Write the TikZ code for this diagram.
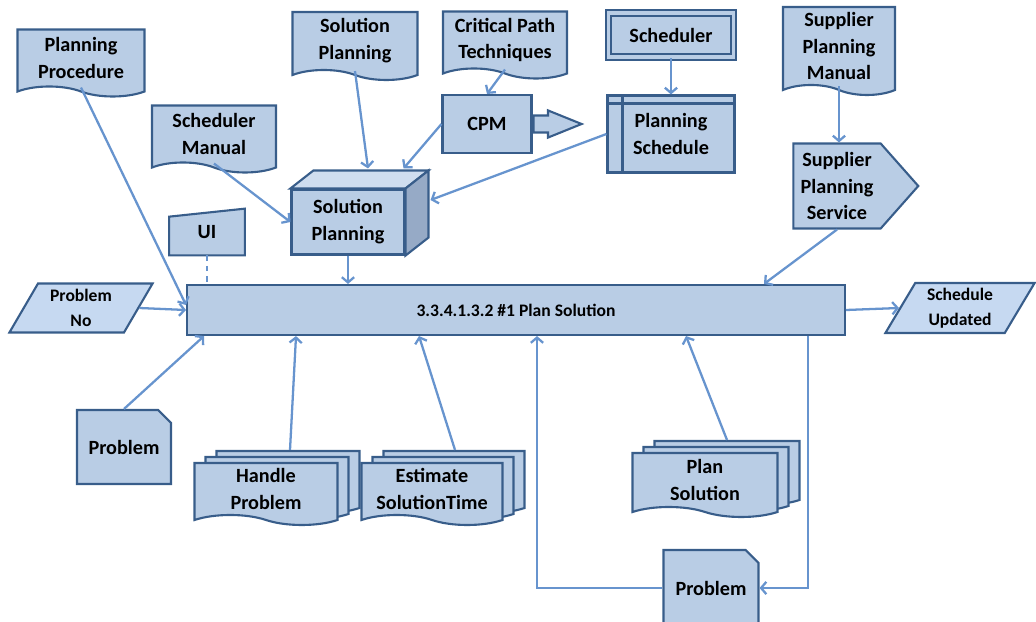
\documentclass[tikz,border=0pt]{standalone}
\usepackage{fontspec}
\setmainfont{Carlito}
\usetikzlibrary{shapes.geometric, shapes.symbols, shapes.misc, shapes.arrows, shadows, arrows.meta, calc}
\definecolor{boxfill}{RGB}{185,205,229}
\definecolor{boxline}{RGB}{56,93,138}
\definecolor{linkline}{RGB}{103,148,206}
\definecolor{iofill}{RGB}{198,217,241}
\definecolor{topfill}{RGB}{207,221,239}
\definecolor{sidefill}{RGB}{150,170,198}
\definecolor{foldfill}{RGB}{140,165,200}
\pgfdeclarelayer{bg}
\pgfsetlayers{bg,main}
\tikzstyle{base} = [draw=boxline, fill=boxfill, line width=1.2pt, align=center, inner sep=0pt, font=\bfseries\fontsize{11.5}{15.3}\selectfont]
\tikzstyle{rect} = [base, rectangle]
\tikzstyle{doc} = [base, tape, tape bend top=none, tape bend bottom=out and in, tape bend height=0.2cm]
\tikzstyle{stack} = [doc, copy shadow={shadow xshift=0.44cm, shadow yshift=0.24cm, draw=boxline, fill=boxfill, line width=1.2pt}, copy shadow={shadow xshift=0.22cm, shadow yshift=0.12cm, draw=boxline, fill=boxfill, line width=1.2pt}]
\tikzstyle{note} = [base, chamfered rectangle, chamfered rectangle corners=north east, chamfered rectangle xsep=0.16cm,
  path picture={\filldraw[foldfill, draw=boxline, line width=0.6pt] ($(path picture bounding box.north east)+(-8,0)$) -- ($(path picture bounding box.north east)+(0,8)$) -- ($(path picture bounding box.north east)+(-6,6)$) -- cycle;}]
\tikzstyle{store} = [rect, path picture={\draw[boxline, line width=1.2pt] ($(path picture bounding box.north west)+(15,0)$) -- ($(path picture bounding box.south west)+(15,0)$) ($(path picture bounding box.north west)+(0,8)$) -- ($(path picture bounding box.north east)+(0,8)$);}]
\tikzstyle{frame} = [rect, double=boxfill, double distance=2pt]
\tikzstyle{io} = [base, fill=iofill, trapezium, trapezium left angle=61, trapezium right angle=119, trapezium stretches=true, font=\bfseries\fontsize{10}{14}\selectfont]
\tikzstyle{sig} = [base, signal, signal to=east, signal pointer angle=97]
\tikzstyle{blockarrow} = [base, single arrow, single arrow tip angle=44, single arrow head extend=0.1cm, minimum height=0.96cm, inner xsep=0pt, inner ysep=0.15cm]
\tikzstyle{arrow} = [->, >={Straight Barb[length=3pt, width=7pt]}, draw=linkline, line width=1.3pt]
\tikzstyle{link} = [draw=linkline, line width=1.3pt]

\begin{document}
\begin{tikzpicture}[x=0.02cm, y=-0.02cm]
    \useasboundingbox (0,0) rectangle (1036,622);
    % documents along the top
    \node (d1) [doc, minimum width=2.54cm, minimum height=1.34cm] at (81,58) {Planning\\Procedure};
    \node (d2) [doc, minimum width=2.48cm, minimum height=1.34cm] at (214,134) {Scheduler\\Manual};
    \node (d3) [doc, minimum width=2.5cm, minimum height=1.36cm] at (355,41) {Solution\\Planning};
    \node (d4) [doc, minimum width=2.48cm, minimum height=1.34cm] at (505,40) {Critical Path\\Techniques};
    \node (d5) [doc, minimum width=2.24cm, minimum height=1.76cm] at (839,46) {Supplier\\Planning\\Manual};
    \node (s1) [frame, minimum width=2.5cm, minimum height=0.88cm] at (671,35) {Scheduler};
    \node (r1) [rect, minimum width=1.78cm, minimum height=1.16cm] at (487,124) {CPM};
    \node (a1) [blockarrow, anchor=west] at (r1.east) {};
    \node (s2) [store, minimum width=2.54cm, minimum height=1.54cm] at (671,134) {Planning\\Schedule};
    \node (g1) [sig, minimum width=2.5cm, minimum height=1.7cm] at (837,186) {Supplier\\Planning\\Service};
    % solution planning box
    \node (x1) [rect, minimum width=2.26cm, minimum height=1.3cm] at (348,222) {Solution\\Planning};
    \draw [base, fill=topfill] (x1.north west) -- ++(23,-18) -- ($(x1.north east)+(23,-18)$) -- (x1.north east) -- cycle;
    \draw [base, fill=sidefill] (x1.north east) -- ++(23,-18) -- ($(x1.south east)+(23,-18)$) -- (x1.south east) -- cycle;
    \node (u1) [font=\bfseries\fontsize{11.5}{15.3}\selectfont, minimum width=1.5cm, minimum height=0.92cm, inner sep=0pt] at (207,232) {UI};
    \begin{pgfonlayer}{bg}
        \draw [base] (u1.south west) -- ($(u1.north west)+(0,8)$) -- (u1.north east) -- (u1.south east) -- cycle;
    \end{pgfonlayer}
    % main activity
    \node (c1) [rect, minimum width=13.16cm, minimum height=1cm, font=\bfseries\fontsize{10}{12}\selectfont] at (516,310) {3.3.4.1.3.2 \#1 Plan Solution};
    \node (b1) [io, minimum width=2.88cm, minimum height=0.98cm] at (81,308) {Problem\\No};
    \node (b2) [io, minimum width=3cm, minimum height=1cm] at (960,308) {Schedule\\Updated};
    % bottom row
    \node (n1) [note, minimum width=1.88cm, minimum height=1.48cm] at (124,447) {Problem};
    \node (m1) [stack, minimum width=2.86cm, minimum height=1.24cm] at (266,489) {Handle\\Problem};
    \node (m2) [stack, minimum width=2.82cm, minimum height=1.24cm] at (432,489) {Estimate\\SolutionTime};
    \node (m3) [stack, minimum width=2.9cm, minimum height=1.28cm] at (705,480) {Plan\\Solution};
    \node (n2) [note, minimum width=1.9cm, minimum height=1.52cm] at (711,588) {Problem};

    \draw [arrow] (d1.south) -- ($(c1.west)+(0,-5)$);
    \draw [arrow] (d2.south) -- (x1.west);
    \draw [arrow] (d3.south) -- ($(x1.north)+(20,-20)$);
    \draw [arrow] (r1.west) -- ($(x1.north east)+(-2,-20)$);
    \draw [arrow] (s2.west) -- ($(x1.east)+(25,-22)$);
    \draw [arrow] (d4.south) -- (r1.north);
    \draw [arrow] (s1.south) -- (s2.north);
    \draw [arrow] (d5.south) -- (d5.south |- g1.north);
    \draw [arrow] (g1.south) -- ($(c1.north east)+(-82,0)$);
    \draw [link, dashed] (u1.south) -- (u1.south |- c1.north);
    \draw [arrow] (x1.south) -- (x1.south |- c1.north);
    \draw [arrow] (b1.east) -- (c1.west);
    \draw [arrow] (c1.east) -- (b2.west);
    \draw [arrow] (n1.north) -- ($(c1.south west)+(18,0)$);
    \draw [arrow] ($(m1.north)+(24,-12)$) -- ($(c1.south west)+(110,0)$);
    \draw [arrow] ($(m2.north)+(23,-12)$) -- ($(c1.south west)+(233,0)$);
    \draw [arrow] ($(m3.north)+(22,-12)$) -- ($(c1.south west)+(500,0)$);
    \draw [arrow] ($(c1.south east)+(-38,0)$) |- (n2.east);
    \draw [arrow] (n2.west) -| ($(c1.south west)+(351,0)$);
\end{tikzpicture}
\end{document}
